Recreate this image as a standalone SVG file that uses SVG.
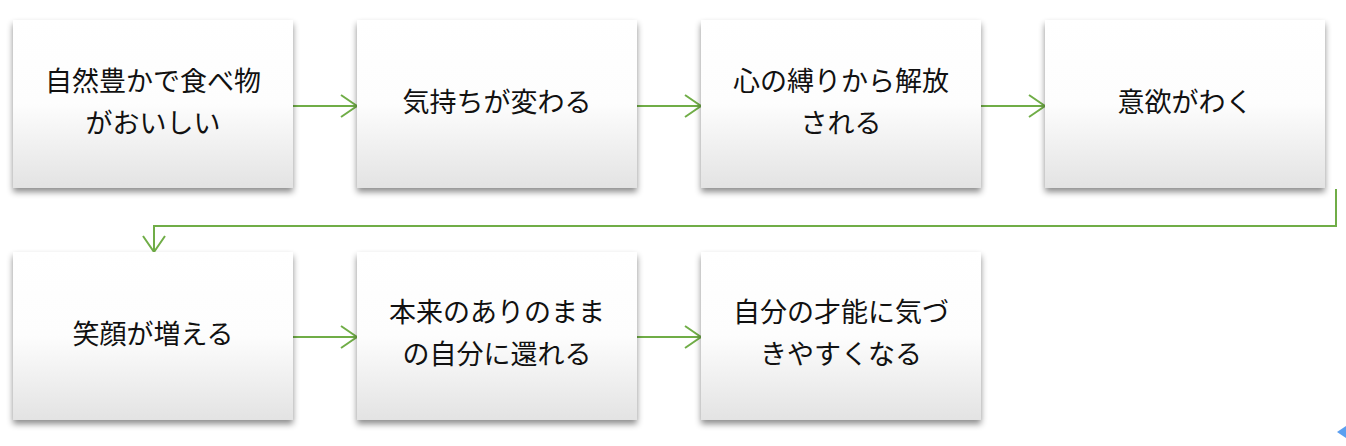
<svg xmlns="http://www.w3.org/2000/svg" width="1346" height="446" viewBox="0 0 1346 446">
<style>
.box{fill:url(#g);filter:url(#sh)}
.t{font-family:"Noto Sans CJK JP","Noto Sans CJK SC",sans-serif;font-size:27px;fill:#111;text-anchor:middle}
.c{fill:none;stroke:#70ad47;stroke-width:2}
</style>
<defs>
<linearGradient id="g" x1="0" y1="0" x2="0" y2="1">
<stop offset="0" stop-color="#ffffff"/>
<stop offset="0.5" stop-color="#fdfdfd"/>
<stop offset="1" stop-color="#e3e3e3"/>
</linearGradient>
<filter id="sh" x="-10%" y="-10%" width="120%" height="130%">
<feDropShadow dx="0" dy="4" stdDeviation="3" flood-color="#000" flood-opacity="0.45"/>
</filter>
<marker id="a" markerUnits="userSpaceOnUse" markerWidth="20" markerHeight="26" refX="17" refY="12" orient="auto">
<path d="M1,1 L17,12 L1,23" fill="none" stroke="#70ad47" stroke-width="2"/>
</marker>
</defs>
<rect width="1346" height="446" fill="#fff"/>
<g id="connectors">
<path class="c" d="M293,106 H357" marker-end="url(#a)"/>
<path class="c" d="M637,106 H701" marker-end="url(#a)"/>
<path class="c" d="M981,106 H1045" marker-end="url(#a)"/>
<path class="c" d="M1336,189 V226 H154 V252" marker-end="url(#a)"/>
<path class="c" d="M293,337 H357" marker-end="url(#a)"/>
<path class="c" d="M637,337 H701" marker-end="url(#a)"/>
</g>
<g id="n1"><rect class="box" x="13" y="20" width="280" height="168"/>
<text class="t" x="153" y="91">自然豊かで食べ物</text><text class="t" x="153" y="133">がおいしい</text></g>
<g id="n2"><rect class="box" x="357" y="20" width="280" height="168"/>
<text class="t" x="497" y="112">気持ちが変わる</text></g>
<g id="n3"><rect class="box" x="701" y="20" width="280" height="168"/>
<text class="t" x="841" y="91">心の縛りから解放</text><text class="t" x="841" y="133">される</text></g>
<g id="n4"><rect class="box" x="1045" y="20" width="280" height="168"/>
<text class="t" x="1185" y="112">意欲がわく</text></g>
<g id="n5"><rect class="box" x="13" y="252" width="280" height="168"/>
<text class="t" x="153" y="344">笑顔が増える</text></g>
<g id="n6"><rect class="box" x="357" y="252" width="280" height="168"/>
<text class="t" x="497" y="322">本来のありのまま</text><text class="t" x="497" y="364">の自分に還れる</text></g>
<g id="n7"><rect class="box" x="701" y="252" width="280" height="168"/>
<text class="t" x="841" y="322">自分の才能に気づ</text><text class="t" x="841" y="364">きやすくなる</text></g>
<polygon points="1337,432 1346,426 1346,438" fill="#5b9ff0"/>
</svg>
